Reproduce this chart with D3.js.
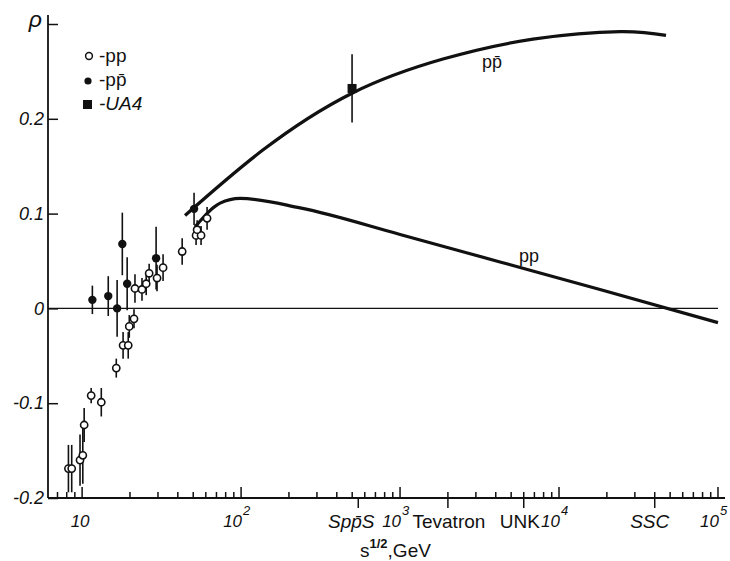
<!DOCTYPE html>
<html>
<head>
<meta charset="utf-8">
<script src="https://cdn.jsdelivr.net/npm/d3@7/dist/d3.min.js"></script>
<style>
body { margin: 0; background: #fff; }
text { font-family: "Liberation Sans", Arial, sans-serif; fill: #111; }
</style>
</head>
<body>
<div id="chart"></div>
<script>
// pp data (open circles): sqrt(s) in GeV, rho, error
var ppEnergy = [8.2, 8.6, 9.7, 10.1, 10.3, 11.4, 13.2, 16.4, 18.1, 19.5, 19.8, 21.2, 21.5, 23.8, 25.3, 26.4, 29.6, 32.3, 42.6, 52.1, 56.0, 52.9, 61.1];
var ppRho = [-0.169, -0.169, -0.160, -0.155, -0.123, -0.092, -0.099, -0.063, -0.039, -0.039, -0.019, -0.011, 0.021, 0.020, 0.026, 0.037, 0.032, 0.043, 0.060, 0.077, 0.077, 0.083, 0.095];
var ppErr = [0.025, 0.025, 0.027, 0.030, 0.018, 0.008, 0.015, 0.010, 0.014, 0.014, 0.012, 0.010, 0.015, 0.012, 0.012, 0.010, 0.014, 0.014, 0.014, 0.010, 0.010, 0.010, 0.012];

// p-pbar data (filled circles)
var pbarEnergy = [11.6, 14.6, 16.6, 17.9, 19.2, 29.2, 50.6];
var pbarRho = [0.009, 0.013, 0.0, 0.068, 0.026, 0.053, 0.105];
var pbarErr = [0.015, 0.021, 0.030, 0.033, 0.028, 0.033, 0.017];

// UA4 point
var ua4Energy = [499];
var ua4Rho = [0.232];
var ua4Err = [0.036];

// model curves
var curvePbarEnergy = [44.4, 137, 499, 1862, 6855, 24200, 47100];
var curvePbarRho = [0.098, 0.167, 0.227, 0.263, 0.284, 0.292, 0.288];
var curvePpEnergy = [51.4, 73.8, 98.6, 235, 1000, 4254, 18100, 100000];
var curvePpRho = [0.086, 0.111, 0.116, 0.106, 0.078, 0.049, 0.020, -0.015];

var yTicks = [-0.2, -0.1, 0, 0.1, 0.2, 0.3];
var yTickLabels = ["-0.2", "-0.1", "0", "0.1", "0.2", "\u03c1"];
var decades = [10, 100, 1000, 10000, 100000];
var decadeExp = ["", "2", "3", "4", "5"];
var machineEnergy = [546, 2000, 6000, 40000];
var machineNames = ["Spp\u0304S", "Tevatron", "UNK", "SSC"];

var width = 730, height = 561;

var x = d3.scaleLog()
    .domain([6.1, 110700])
    .range([48, 725]);

var y = d3.scaleLinear()
    .domain([-0.2, 0.3])
    .range([498, 24]);

var svg = d3.select("#chart").append("svg")
    .attr("width", width)
    .attr("height", height);

// y axis
var yAxis = d3.axisLeft(y)
    .tickValues(yTicks)
    .tickSizeInner(-10)
    .tickSizeOuter(0)
    .tickPadding(4)
    .tickFormat(function(d, i) { return yTickLabels[i]; });

var gy = svg.append("g")
    .attr("transform", "translate(48,0)")
    .call(yAxis);
gy.select(".domain").remove();
gy.selectAll(".tick line").attr("stroke", "#111").attr("stroke-width", 1.5);
gy.selectAll(".tick text")
    .style("font-size", "18px")
    .style("font-style", "italic")
    .attr("fill", "#111");
// the rho label at the top tick
gy.selectAll(".tick text").filter(function(d) { return d == 0.3; })
    .style("font-size", "23px")
    .attr("x", -6)
    .attr("dy", "0.1em");

svg.append("line")
    .attr("x1", 48).attr("x2", 48)
    .attr("y1", 15).attr("y2", y(-0.2))
    .attr("stroke", "#111").attr("stroke-width", 1.8);

// x axis
svg.append("line")
    .attr("x1", 48).attr("x2", 725)
    .attr("y1", y(-0.2)).attr("y2", y(-0.2))
    .attr("stroke", "#111").attr("stroke-width", 2);

var ticks = x.ticks();
svg.append("g").selectAll("line")
    .data(ticks)
    .enter().append("line")
    .attr("x1", function(d) { return x(d); })
    .attr("x2", function(d) { return x(d); })
    .attr("y1", y(-0.2))
    .attr("y2", function(d) {
        var major = Math.abs(Math.log10(d) % 1) < 1e-6;
        return y(-0.2) - (major ? 11 : 6);
    })
    .attr("stroke", "#111")
    .attr("stroke-width", 1.5);

// machine ticks below the axis
svg.append("g").selectAll("line")
    .data(machineEnergy)
    .enter().append("line")
    .attr("x1", function(d) { return x(d); })
    .attr("x2", function(d) { return x(d); })
    .attr("y1", y(-0.2))
    .attr("y2", y(-0.2) + 10)
    .attr("stroke", "#111")
    .attr("stroke-width", 1.5);

var decLabels = svg.append("g").selectAll("g")
    .data(decades)
    .enter().append("g");

decLabels.append("text")
    .attr("x", function(d, i) { return i == 0 ? x(d) - 2 : x(d) + 1; })
    .attr("y", 527)
    .attr("text-anchor", function(d, i) { return i == 0 ? "middle" : "end"; })
    .style("font-size", "17px")
    .style("font-style", "italic")
    .text("10");

decLabels.append("text")
    .attr("x", function(d) { return x(d) + 2; })
    .attr("y", 515)
    .style("font-size", "13px")
    .style("font-style", "italic")
    .text(function(d, i) { return decadeExp[i]; });

var machineDx = [-7, 1, -4, -5];
svg.append("g").selectAll("text")
    .data(machineEnergy)
    .enter().append("text")
    .attr("x", function(d, i) { return x(d) + machineDx[i]; })
    .attr("y", 528)
    .attr("text-anchor", "middle")
    .style("font-size", "19px")
    .style("font-style", function(d, i) { return (i == 1 || i == 2) ? "normal" : "italic"; })
    .text(function(d, i) { return machineNames[i]; });

var xTitle = svg.append("text")
    .attr("x", 360)
    .attr("y", 557)
    .style("font-size", "19px");
xTitle.append("tspan").text("s");
xTitle.append("tspan").attr("dy", -9).style("font-size", "13px").style("font-weight", "bold").text("1/2");
xTitle.append("tspan").attr("dy", 9).text(",GeV");

// zero line
svg.append("line")
    .attr("x1", 48).attr("x2", x(100000))
    .attr("y1", y(0)).attr("y2", y(0))
    .attr("stroke", "#111").attr("stroke-width", 1.4);

// curves
var linePbar = d3.line()
    .x(function(d) { return x(d[0]); })
    .y(function(d) { return y(d[1]); })
    .curve(d3.curveNatural);

var linePp = d3.line()
    .x(function(d) { return x(d[0]); })
    .y(function(d) { return y(d[1]); })
    .curve(d3.curveMonotoneX);

svg.append("path")
    .datum(d3.zip(curvePbarEnergy, curvePbarRho))
    .attr("d", linePbar)
    .attr("fill", "none")
    .attr("stroke", "#111")
    .attr("stroke-width", 3.2);

svg.append("path")
    .datum(d3.zip(curvePpEnergy, curvePpRho))
    .attr("d", linePp)
    .attr("fill", "none")
    .attr("stroke", "#111")
    .attr("stroke-width", 3.2);

svg.append("text").attr("x", 482).attr("y", 68).style("font-size", "18px").text("pp\u0304");
svg.append("text").attr("x", 519).attr("y", 262).style("font-size", "18px").text("pp");

// error bars
function errorBars(energy, rho, err) {
    svg.append("g").selectAll("line")
        .data(d3.range(energy.length))
        .enter().append("line")
        .attr("x1", function(i) { return x(energy[i]); })
        .attr("x2", function(i) { return x(energy[i]); })
        .attr("y1", function(i) { return y(rho[i] - err[i]); })
        .attr("y2", function(i) { return y(rho[i] + err[i]); })
        .attr("stroke", "#111")
        .attr("stroke-width", 1.6);
}
errorBars(ppEnergy, ppRho, ppErr);
errorBars(pbarEnergy, pbarRho, pbarErr);
errorBars(ua4Energy, ua4Rho, ua4Err);

svg.append("g").selectAll("circle")
    .data(d3.range(ppEnergy.length))
    .enter().append("circle")
    .attr("cx", function(i) { return x(ppEnergy[i]); })
    .attr("cy", function(i) { return y(ppRho[i]); })
    .attr("r", 3.6)
    .attr("fill", "#fff")
    .attr("stroke", "#111")
    .attr("stroke-width", 1.6);

svg.append("g").selectAll("circle")
    .data(d3.range(pbarEnergy.length))
    .enter().append("circle")
    .attr("cx", function(i) { return x(pbarEnergy[i]); })
    .attr("cy", function(i) { return y(pbarRho[i]); })
    .attr("r", 4.2)
    .attr("fill", "#111");

svg.append("g").selectAll("rect")
    .data(d3.range(ua4Energy.length))
    .enter().append("rect")
    .attr("x", function(i) { return x(ua4Energy[i]) - 4.5; })
    .attr("y", function(i) { return y(ua4Rho[i]) - 4.5; })
    .attr("width", 9)
    .attr("height", 9)
    .attr("fill", "#111");

// legend
var legend = svg.append("g");
legend.append("circle").attr("cx", 89).attr("cy", 56).attr("r", 3.4)
    .attr("fill", "#fff").attr("stroke", "#111").attr("stroke-width", 1.5);
legend.append("circle").attr("cx", 88).attr("cy", 81).attr("r", 3.6).attr("fill", "#111");
legend.append("rect").attr("x", 83).attr("y", 100).attr("width", 9).attr("height", 9).attr("fill", "#111");
legend.append("text").attr("x", 99).attr("y", 62).style("font-size", "19px").text("-pp");
legend.append("text").attr("x", 99).attr("y", 86).style("font-size", "19px").text("-pp\u0304");
legend.append("text").attr("x", 99).attr("y", 110).style("font-size", "19px").style("font-style", "italic").text("-UA4");
</script>
</body>
</html>
